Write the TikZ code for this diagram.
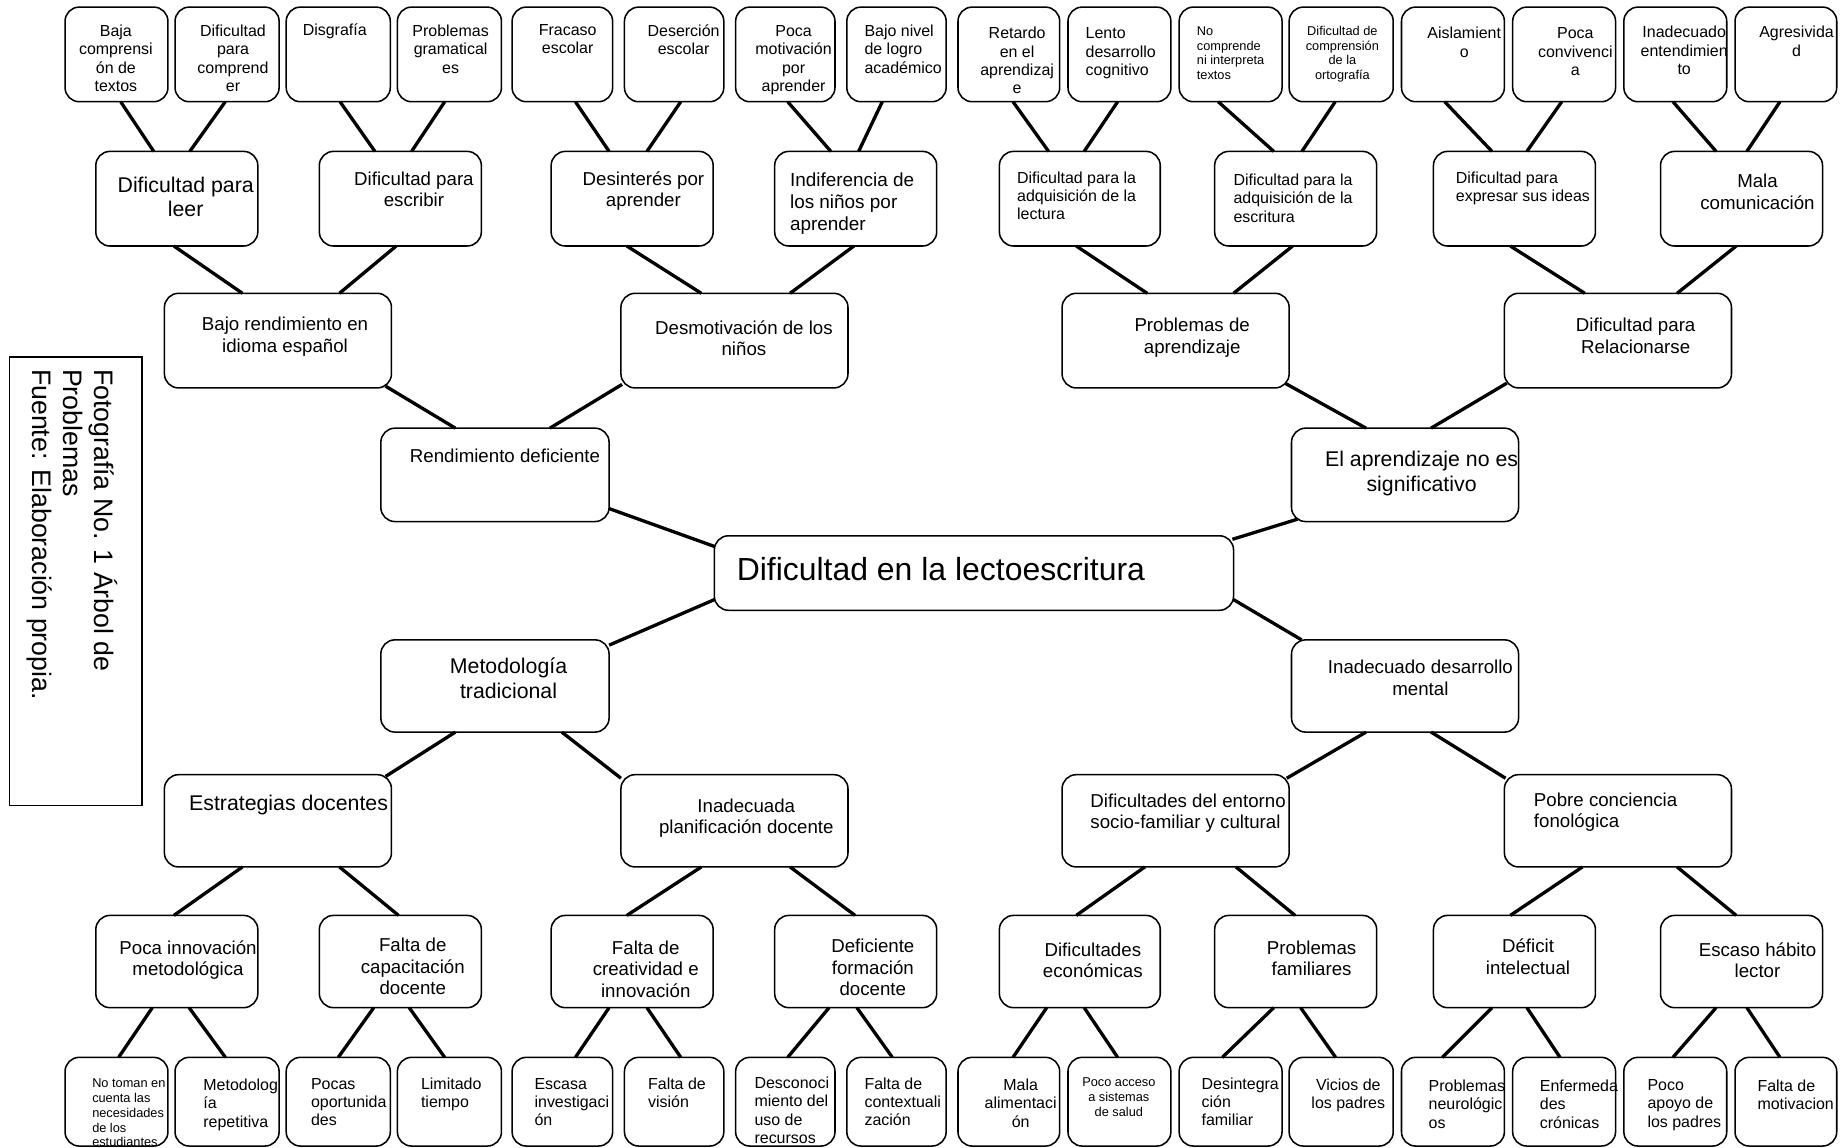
\documentclass[tikz,border=0pt]{standalone}
\usepackage{fontspec}
\setmainfont{Liberation Sans}
\usetikzlibrary{calc}
\tikzset{
  box/.style={draw=black, line width=1.3pt, rounded corners=12pt, inner sep=0pt, outer sep=0pt, fill=white},
  capbox/.style={draw=black, line width=1.2pt, inner sep=0pt, outer sep=0pt},
  conn/.style={line width=2.8pt, draw=black},
  txt/.style={inner sep=0pt, outer sep=0pt, text=black},
  tc/.style={txt, anchor=north, align=center},
  tl/.style={txt, anchor=north west, align=left},
}
\newcommand{\BX}[5]{%
  \pgfmathsetmacro\bw{#4-#2}\pgfmathsetmacro\bh{#5-#3}%
  \pgfmathsetmacro\bcx{(#2+#4)/2}\pgfmathsetmacro\bcy{(#3+#5)/2}%
  \node[box, minimum width=\bw pt, minimum height=\bh pt] (#1) at (\bcx,\bcy) {};}
\newcommand{\TX}[6]{%
  \pgfmathsetmacro\tyy{#4-0.44*#5}\pgfmathsetmacro\tls{1.15*#5}%
  \node[#2, font=\fontsize{#5}{\tls}\selectfont] (#1) at (#3,\tyy) {\rule{0pt}{0.8em}#6};}
\newcommand{\CN}[4]{\draw[conn] ([xshift=#2pt]#1.south) -- ([xshift=#4pt]#3.north);}
\begin{document}
\begin{tikzpicture}[x=1pt,y=-1pt]
\useasboundingbox (0,0) rectangle (1560,970);
\fill[white] (0,0) rectangle (1560,970);
% ---------- boxes ----------
% top leaves
\BX{l1}{55}{6}{142}{86}\BX{l2}{148}{6}{236}{86}\BX{l3}{242}{6}{330}{86}\BX{l4}{336}{6}{424}{86}
\BX{l5}{433}{6}{518}{86}\BX{l6}{528}{6}{612}{86}\BX{l7}{622}{6}{706}{86}\BX{l8}{716}{6}{800}{86}
\BX{l9}{810}{6}{896}{86}\BX{l10}{903}{6}{990}{86}\BX{l11}{997}{6}{1084}{86}\BX{l12}{1090}{6}{1178}{86}
\BX{l13}{1185}{6}{1272}{86}\BX{l14}{1279}{6}{1366}{86}\BX{l15}{1373}{6}{1460}{86}\BX{l16}{1467}{6}{1553}{86}
% row 2
\BX{r1}{81}{128}{218}{208}\BX{r2}{270}{128}{407}{208}\BX{r3}{466}{128}{603}{208}\BX{r4}{655}{128}{792}{208}
\BX{r5}{845}{128}{981}{208}\BX{r6}{1027}{128}{1164}{208}\BX{r7}{1212}{128}{1349}{208}\BX{r8}{1404}{128}{1541}{208}
% row 3
\BX{a1}{139}{248}{331}{328}\BX{a2}{525}{248}{717}{328}\BX{a3}{898}{248}{1090}{328}\BX{a4}{1272}{248}{1464}{328}
% row 4
\BX{b1}{322}{362}{515}{441}\BX{b2}{1092}{362}{1284}{441}
% center
\BX{c}{604}{453}{1043}{516}
% row 5
\BX{d1}{322}{541}{515}{619}\BX{d2}{1092}{541}{1284}{619}
% row 6
\BX{e1}{139}{655}{331}{733}\BX{e2}{525}{655}{717}{733}\BX{e3}{898}{655}{1090}{733}\BX{e4}{1272}{655}{1464}{733}
% row 7
\BX{f1}{81}{774}{218}{852}\BX{f2}{270}{774}{407}{852}\BX{f3}{466}{774}{603}{852}\BX{f4}{655}{774}{792}{852}
\BX{f5}{845}{774}{981}{852}\BX{f6}{1027}{774}{1164}{852}\BX{f7}{1212}{774}{1349}{852}\BX{f8}{1404}{774}{1541}{852}
% bottom leaves
\BX{g1}{55}{894}{142}{969}\BX{g2}{148}{894}{236}{969}\BX{g3}{242}{894}{330}{969}\BX{g4}{336}{894}{424}{969}
\BX{g5}{433}{894}{518}{969}\BX{g6}{528}{894}{612}{969}\BX{g7}{622}{894}{706}{969}\BX{g8}{716}{894}{800}{969}
\BX{g9}{810}{894}{896}{969}\BX{g10}{903}{894}{990}{969}\BX{g11}{997}{894}{1084}{969}\BX{g12}{1090}{894}{1178}{969}
\BX{g13}{1185}{894}{1272}{969}\BX{g14}{1279}{894}{1366}{969}\BX{g15}{1373}{894}{1460}{969}\BX{g16}{1467}{894}{1553}{969}
% caption box
\node[capbox, minimum width=112pt, minimum height=379pt] (cap) at (64,491.5) {};
% ---------- connectors ----------
\CN{l1}{3.5}{r1}{-19.5}\CN{l2}{-1.5}{r1}{11}
\CN{l3}{1.5}{r2}{-21.5}\CN{l4}{-4}{r2}{9.5}
\CN{l5}{11}{r3}{-19.5}\CN{l6}{5.6}{r3}{12.5}
\CN{l7}{2}{r4}{-21}\CN{l8}{-12}{r4}{2.5}
\CN{l9}{3.5}{r5}{-26.4}\CN{l10}{-1.5}{r5}{3.7}
\CN{l11}{-10.5}{r6}{-18.5}\CN{l12}{-5}{r6}{5.3}
\CN{l13}{-7}{r7}{-19}\CN{l14}{-2}{r7}{10.5}
\CN{l15}{-2}{r8}{-21.5}\CN{l16}{-5}{r8}{4.5}
\CN{r1}{-2.5}{a1}{-30}\CN{r2}{-3.5}{a1}{52}
\CN{r3}{-4.5}{a2}{-28}\CN{r4}{-1.5}{a2}{47}
\CN{r5}{-3}{a3}{-24}\CN{r6}{-2.5}{a3}{49}
\CN{r7}{-3.5}{a4}{-28}\CN{r8}{-4.5}{a4}{50}
\draw[conn] ($(a1.south east)+(-5,-1.5)$) -- ([xshift=-33.5pt]b1.north);
\draw[conn] ($(a2.south west)+(1,-3)$) -- ([xshift=46.5pt]b1.north);
\draw[conn] ($(a3.south east)+(-3.5,-4)$) -- ([xshift=-33pt]b2.north);
\draw[conn] ($(a4.south west)+(2,-4)$) -- ([xshift=22pt]b2.north);
\draw[conn] ($(b1.south east)+(0,-11)$) -- ($(c.north west)+(0,9)$);
\draw[conn] ($(b2.south west)+(5,-2)$) -- ($(c.north east)+(-1,3)$);
\draw[conn] ($(c.south west)+(0,-9)$) -- ($(d1.north east)+(0,4.5)$);
\draw[conn] ($(c.south east)+(0,-9)$) -- ($(d2.north west)+(8.5,0)$);
\draw[conn] ([xshift=-33.5pt]d1.south) -- ($(e1.north east)+(-5,1.5)$);
\draw[conn] ([xshift=56.5pt]d1.south) -- ($(e2.north west)+(0,3)$);
\draw[conn] ([xshift=-33pt]d2.south) -- ($(e3.north east)+(-2,3)$);
\draw[conn] ([xshift=22pt]d2.south) -- ($(e4.north west)+(1,3)$);
\CN{e1}{-30}{f1}{-2.5}\CN{e1}{52}{f2}{-1.5}
\CN{e2}{-28}{f3}{-4.5}\CN{e2}{47}{f4}{-0.5}
\CN{e3}{-26}{f5}{-3}\CN{e3}{51}{f6}{-0.5}
\CN{e4}{-30}{f7}{-3.5}\CN{e4}{50}{f8}{-4.5}
\CN{f1}{-20.7}{g1}{1.8}\CN{f1}{10.4}{g2}{-1.4}
\CN{f2}{-22.5}{g3}{0}\CN{f2}{7.5}{g4}{-4}
\CN{f3}{-19.5}{g5}{11}\CN{f3}{12.5}{g6}{5.6}
\CN{f4}{-22.5}{g7}{2}\CN{f4}{1}{g8}{-3.5}
\CN{f5}{-28}{g9}{3.5}\CN{f5}{3.7}{g10}{-1.5}
\CN{f6}{-18.5}{g11}{-7}\CN{f6}{4.2}{g12}{-4.7}
\CN{f7}{-19}{g13}{-9}\CN{f7}{10.5}{g14}{-3.5}
\CN{f8}{-21.5}{g15}{-2}\CN{f8}{4.5}{g16}{-5}
% ---------- texts ----------
\TX{tl1}{tc}{98}{26}{13.5}{Baja\\comprensi\\ón de\\textos}
\TX{tl2}{tc}{197}{26}{13.5}{Dificultad\\para\\comprend\\er}
\TX{tl3}{tc}{283}{25}{13.5}{Disgrafía}
\TX{tl4}{tc}{381}{26}{13.5}{Problemas\\gramatical\\es}
\TX{tl5}{tc}{480}{25}{13.5}{Fracaso\\escolar}
\TX{tl6}{tc}{578}{26}{13.5}{Deserción\\escolar}
\TX{tl7}{tc}{671}{26}{13.5}{Poca\\motivación\\por\\aprender}
\TX{tl8}{tl}{731}{26}{13.5}{Bajo nivel\\de logro\\académico}
\TX{tl9}{tc}{860}{28}{13.5}{Retardo\\en el\\aprendizaj\\e}
\TX{tl10}{tl}{918}{28}{13.5}{Lento\\desarrollo\\cognitivo}
\TX{tl11}{tl}{1012}{26}{10.8}{No\\comprende\\ni interpreta\\textos}
\TX{tl12}{tc}{1135}{26}{10.8}{Dificultad de\\comprensión\\de la\\ortografía}
\TX{tl13}{tc}{1238}{28}{13.5}{Aislamient\\o}
\TX{tl14}{tc}{1332}{28}{13.5}{Poca\\convivenci\\a}
\TX{tl15}{tc}{1424}{27}{13.5}{Inadecuado\\entendimien\\to}
\TX{tl16}{tc}{1519}{27}{13.5}{Agresivida\\d}
\TX{tr1}{tc}{157}{156}{18}{Dificultad para\\leer}
\TX{tr2}{tc}{350}{151}{15.8}{Dificultad para\\escribir}
\TX{tr3}{tc}{544}{151}{15.8}{Desinterés por\\aprender}
\TX{tr4}{tl}{668}{152}{16}{Indiferencia de\\los niños por\\aprender}
\TX{tr5}{tl}{860}{150}{13.5}{Dificultad para la\\adquisición de la\\lectura}
\TX{tr6}{tl}{1043}{152}{13.5}{Dificultad para la\\adquisición de la\\escritura}
\TX{tr7}{tl}{1231}{150}{13.5}{Dificultad para\\expresar sus ideas}
\TX{tr8}{tc}{1486}{153}{15.8}{Mala\\comunicación}
\TX{ta1}{tc}{241}{274}{15.8}{Bajo rendimiento en\\idioma español}
\TX{ta2}{tc}{629}{277}{15.8}{Desmotivación de los\\niños}
\TX{ta3}{tc}{1008}{275}{15.8}{Problemas de\\aprendizaje}
\TX{ta4}{tc}{1383}{275}{15.8}{Dificultad para\\Relacionarse}
\TX{tb1}{tc}{427}{385}{15.8}{Rendimiento deficiente}
\TX{tb2}{tc}{1202}{388}{18}{El aprendizaje no es\\significativo}
\TX{tc0}{tl}{623}{481}{27}{Dificultad en la lectoescritura}
\TX{td1}{tc}{430}{563}{18}{Metodología\\tradicional}
\TX{td2}{tc}{1201}{564}{15.8}{Inadecuado desarrollo\\mental}
\TX{te1}{tc}{244}{679}{18}{Estrategias docentes}
\TX{te2}{tc}{631}{681}{15.8}{Inadecuada\\planificación docente}
\TX{te3}{tl}{922}{677}{15.8}{Dificultades del entorno\\socio-familiar y cultural}
\TX{te4}{tl}{1297}{676}{15.8}{Pobre conciencia\\fonológica}
\TX{tf1}{tc}{159}{801}{15.8}{Poca innovación\\metodológica}
\TX{tf2}{tc}{349}{799}{15.8}{Falta de\\capacitación\\docente}
\TX{tf3}{tc}{546}{801}{15.8}{Falta de\\creatividad e\\innovación}
\TX{tf4}{tc}{738}{800}{15.8}{Deficiente\\formación\\docente}
\TX{tf5}{tc}{924}{803}{15.8}{Dificultades\\económicas}
\TX{tf6}{tc}{1109}{801}{15.8}{Problemas\\familiares}
\TX{tf7}{tc}{1292}{800}{15.8}{Déficit\\intelectual}
\TX{tf8}{tc}{1486}{803}{15.8}{Escaso hábito\\lector}
\TX{tg1}{tl}{78}{916}{10.8}{No toman en\\cuenta las\\necesidades\\de los\\estudiantes}
\TX{tg2}{tl}{172}{917}{13.5}{Metodolog\\ía\\repetitiva}
\TX{tg3}{tl}{263}{916}{13.5}{Pocas\\oportunida\\des}
\TX{tg4}{tl}{356}{916}{13.5}{Limitado\\tiempo}
\TX{tg5}{tl}{452}{916}{13.5}{Escasa\\investigaci\\ón}
\TX{tg6}{tl}{548}{916}{13.5}{Falta de\\visión}
\TX{tg7}{tl}{638}{915.5}{13.5}{Desconoci\\miento del\\uso de\\recursos}
\TX{tg8}{tl}{731}{916}{13.5}{Falta de\\contextuali\\zación}
\TX{tg9}{tc}{863}{917}{13.5}{Mala\\alimentaci\\ón}
\TX{tg10}{tc}{946}{915}{10.8}{Poco acceso\\a sistemas\\de salud}
\TX{tg11}{tl}{1016}{916}{13.5}{Desintegra\\ción\\familiar}
\TX{tg12}{tc}{1140}{917}{13.5}{Vicios de\\los padres}
\TX{tg13}{tl}{1208}{918}{13.5}{Problemas\\neurológic\\os}
\TX{tg14}{tl}{1302}{918}{13.5}{Enfermeda\\des\\crónicas}
\TX{tg15}{tl}{1393}{917}{13.5}{Poco\\apoyo de\\los padres}
\TX{tg16}{tl}{1486}{918}{13.5}{Falta de\\motivacion}
% caption text
\node[txt, rotate=-90, anchor=north west, align=left, font=\fontsize{22.6}{26}\selectfont] (captxt) at ($(cap.north east)+(-19,10)$) {\rule{0pt}{0.95em}Fotografía No. 1 Árbol de\\Problemas\\Fuente: Elaboración propia.};
\end{tikzpicture}
\end{document}
